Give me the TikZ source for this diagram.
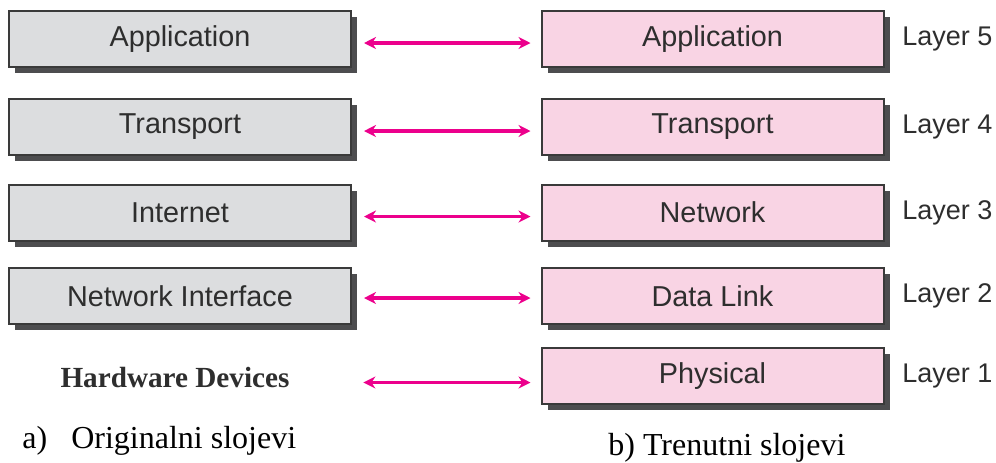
\documentclass[tikz,border=0pt]{standalone}
\usepackage{fontspec}
\setmainfont{Liberation Serif}
\setsansfont{Liberation Sans}
\usetikzlibrary{shadows,arrows.meta}
\definecolor{boxgray}{HTML}{DCDDDF}
\definecolor{boxpink}{HTML}{F9D4E4}
\definecolor{boxline}{HTML}{3A3A3A}
\definecolor{boxshadow}{HTML}{4D4D4F}
\definecolor{boxtext}{HTML}{2E2E2E}
\definecolor{arrowpink}{HTML}{EC008C}

\begin{document}
\begin{tikzpicture}[x=0.5pt,y=-0.5pt,
    layerbox/.style={draw=boxline,line width=1pt,minimum width=171pt,minimum height=28pt,inner sep=0pt,
      font=\sffamily\fontsize{14.4}{17}\selectfont,text=boxtext,
      drop shadow={shadow xshift=3pt,shadow yshift=-3pt,fill=boxshadow,opacity=1}},
    oldbox/.style={layerbox,fill=boxgray},
    newbox/.style={layerbox,fill=boxpink},
    hwtext/.style={minimum width=176pt,inner sep=0pt,font=\bfseries\fontsize{14.6}{18}\selectfont,text=boxtext},
    layername/.style={anchor=west,inner sep=0pt,font=\sffamily\fontsize{13.5}{16}\selectfont,text=boxtext},
    caption/.style={anchor=base west,inner sep=0pt,font=\fontsize{16}{19}\selectfont},
    link/.style={{Stealth[length=6pt,width=6pt]}-{Stealth[length=6pt,width=6pt]},
      line width=1.8pt,draw=arrowpink,shorten <=6pt,shorten >=5pt}]
  \useasboundingbox (0,0) rectangle (996,462);
  % original layers
  \draw
    (180,39) node[oldbox] (appL) {Application}
    (180,127) node[oldbox] (transL) {Transport}
    (180,212.5) node[oldbox] (netL) {Internet}
    (180,296) node[oldbox] (nifL) {Network Interface}
    (175,377.5) node[hwtext] (hwL) {Hardware Devices};
  % current layers
  \draw
    (712.5,39) node[newbox] (appR) {Application}
    (712.5,127) node[newbox] (transR) {Transport}
    (712.5,212.5) node[newbox] (netR) {Network}
    (712.5,296) node[newbox] (dlR) {Data Link}
    (712.5,376) node[newbox] (physR) {Physical};
  \draw
    (902,39) node[layername] (lay5) {Layer 5}
    (902,127) node[layername] (lay4) {Layer 4}
    (902,212.5) node[layername] (lay3) {Layer 3}
    (902,296) node[layername] (lay2) {Layer 2}
    (902,376) node[layername] (lay1) {Layer 1};
  \draw[link] ([yshift=-2pt]appL.east) -- ([yshift=-2pt]appR.west);
  \draw[link] ([yshift=-2pt]transL.east) -- ([yshift=-2pt]transR.west);
  \draw[link] ([yshift=-2pt]netL.east) -- ([yshift=-2pt]netR.west);
  \draw[link] ([yshift=-1pt]nifL.east) -- ([yshift=-1pt]dlR.west);
  \draw[link] ([yshift=-2.5pt]hwL.east) -- ([yshift=-2.5pt]hwL.east -| physR.west);
  % captions
  \draw
    (22,448) node[caption] (capA) {a)\hspace{12pt}Originalni slojevi}
    (608,455) node[caption] (capB) {b) Trenutni slojevi};
\end{tikzpicture}
\end{document}
